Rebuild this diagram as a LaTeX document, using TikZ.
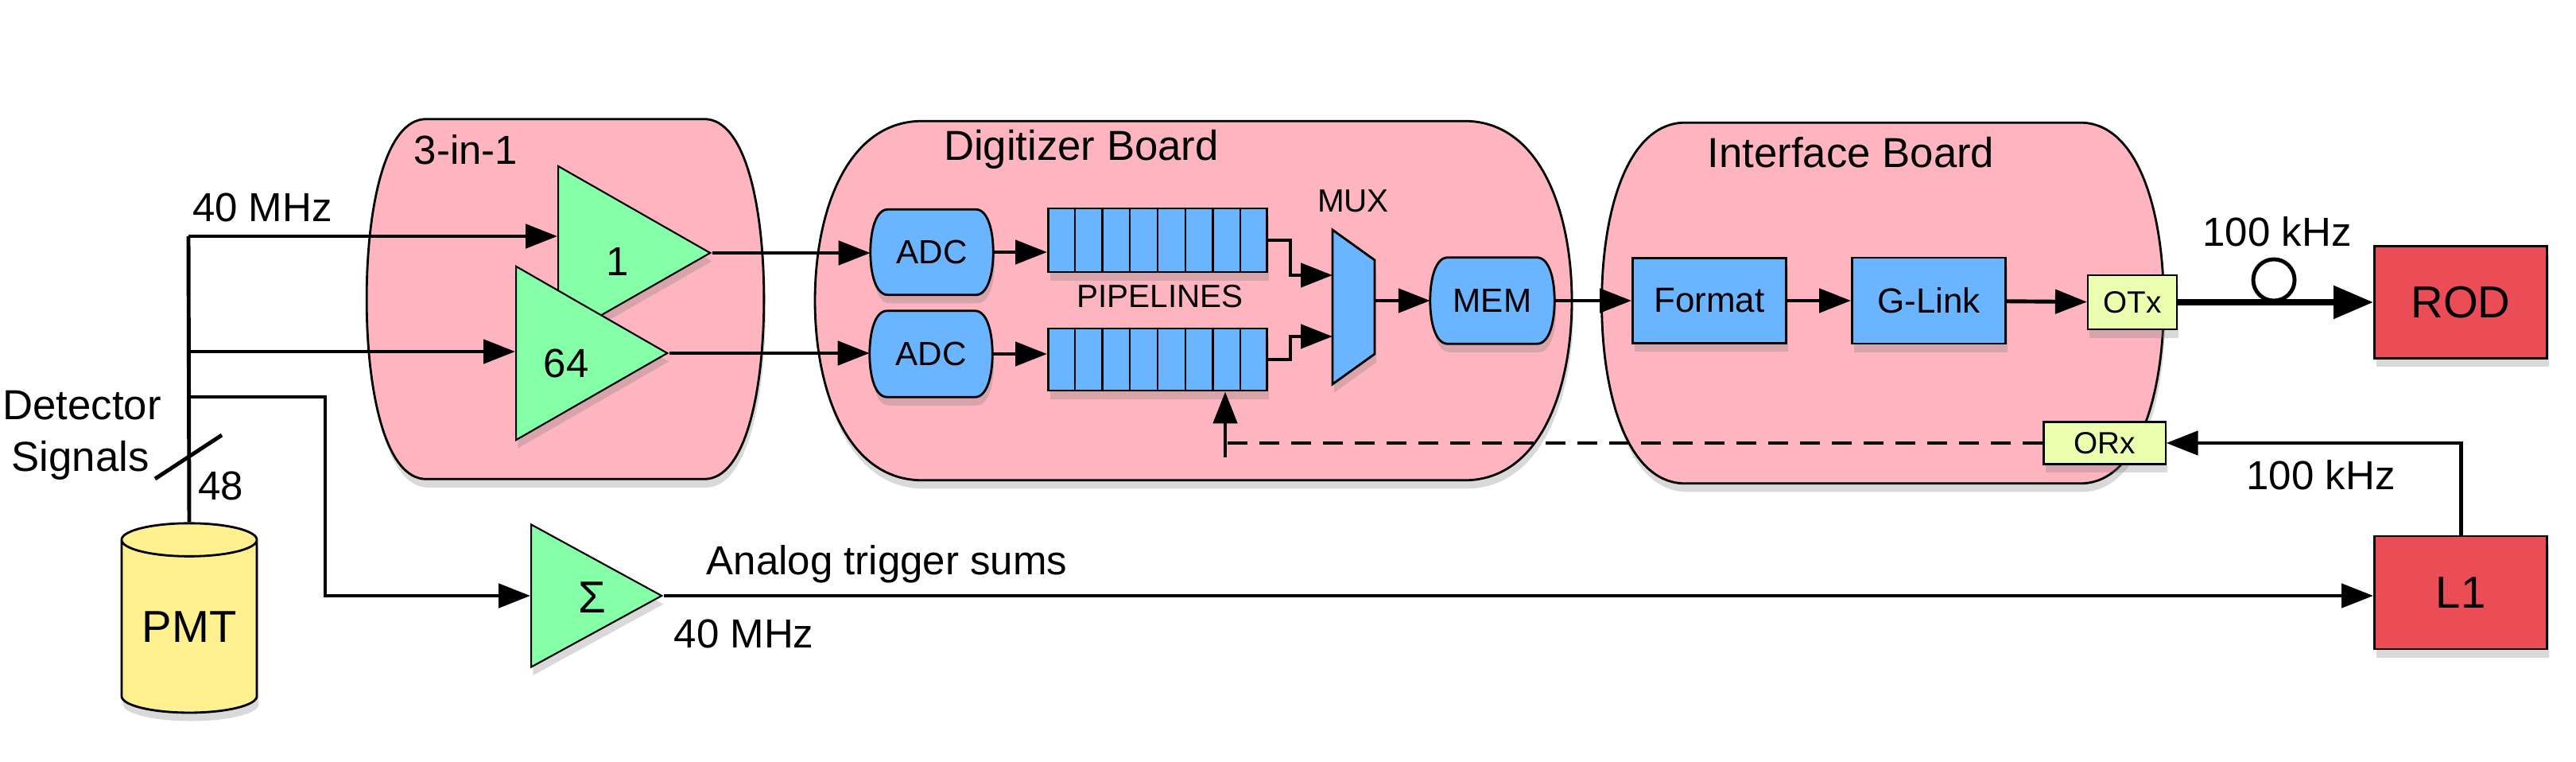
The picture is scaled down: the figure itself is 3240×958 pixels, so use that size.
\documentclass[tikz,border=0pt]{standalone}
\usepackage{fontspec}
\setmainfont{Liberation Sans}
\usetikzlibrary{arrows.meta, shapes.geometric, shadows, calc, positioning}
\definecolor{boardpink}{HTML}{FFB5C0}
\definecolor{ampgreen}{HTML}{85FFA8}
\definecolor{blockblue}{HTML}{6BB4FF}
\definecolor{pmtyellow}{HTML}{FFF08F}
\definecolor{optgreen}{HTML}{EBFFB0}
\definecolor{boxred}{HTML}{EB4D57}

\newcommand{\fs}[1]{\fontsize{#1}{#1}\selectfont}
% barrel outline around a node: name, side depth, style
\newcommand{\barrel}[3]{%
  \filldraw[#3] ([xshift=#2]#1.north west) -- ([xshift=-#2]#1.north east)
    .. controls ([xshift=-0.3*#2]#1.north east) and ($(#1.east)!0.5!(#1.north east)$) .. (#1.east)
    .. controls ($(#1.east)!0.5!(#1.south east)$) and ([xshift=-0.3*#2]#1.south east) .. ([xshift=-#2]#1.south east)
    -- ([xshift=#2]#1.south west)
    .. controls ([xshift=0.3*#2]#1.south west) and ($(#1.west)!0.5!(#1.south west)$) .. (#1.west)
    .. controls ($(#1.west)!0.5!(#1.north west)$) and ([xshift=0.3*#2]#1.north west) .. cycle;}

\tikzset{
  shade/.style={drop shadow={opacity=0.3, shadow xshift=0.6pt, shadow yshift=-3pt}},
  frame/.style={draw=none, fill=none, inner sep=0pt},
  board/.style={draw=black, line width=0.8pt, fill=boardpink, shade},
  block/.style={draw=black, line width=0.8pt, fill=blockblue, shade},
  amp/.style={isosceles triangle, isosceles triangle stretches, draw=black, line width=0.6pt,
    fill=ampgreen, inner sep=0pt, anchor=apex, shade, font=\fs{14}},
  box/.style={draw=black, line width=0.8pt, fill=blockblue, inner sep=0pt, shade},
  redbox/.style={draw=black, line width=0.8pt, fill=boxred, inner sep=0pt, shade, font=\fs{16}},
  opt/.style={draw=black, line width=0.6pt, fill=optgreen, inner sep=0pt, font=\fs{11}, shade},
  lbl/.style={inner sep=0pt, font=\fs{14.5}},
  wire/.style={line width=1.4pt, -{Triangle[length=0.4cm, width=0.3cm]}},
  line/.style={line width=1.4pt},
}

\begin{document}
\begin{tikzpicture}[x=0.01cm, y=-0.01cm]
  \useasboundingbox (0,0) rectangle (3240,958);

  % boards
  \node[frame, minimum width=4.98cm, minimum height=4.51cm] (trio) at (711,376) {};
  \node[frame, minimum width=9.50cm, minimum height=4.50cm] (digi) at (1501,378) {};
  \node[frame, minimum width=7.05cm, minimum height=4.52cm] (iface) at (2368,381) {};
  \barrel{trio}{0.75cm}{board}
  \barrel{digi}{1.35cm}{board}
  \barrel{iface}{1.05cm}{board}
  \node[lbl, anchor=west] (triolbl) at (520,188) {3-in-1};
  \node[lbl, font=\fs{15}] (digilbl) at (1360,188) {Digitizer Board};
  \node[lbl, font=\fs{15}] (ifacelbl) at (2328,192) {Interface Board};

  % amplifiers
  \node[amp, minimum height=1.91cm, minimum width=2.18cm] (amp1) at (896,318) {};
  \node[lbl] (amp1txt) at (777,329) {1};
  \node[amp, minimum height=1.90cm, minimum width=2.18cm] (amp64) at (842,444) {};
  \node[lbl] (amp64txt) at (712,457) {64};
  \node[amp, minimum height=1.64cm, minimum width=1.79cm] (sum) at (835,749) {};
  \node[lbl, font=\fs{16}] (sumtxt) at (745,751) {Σ};

  % PMT
  \node[cylinder, shape border rotate=90, draw=black, line width=0.8pt, fill=pmtyellow,
    minimum width=1.70cm, minimum height=2.38cm, aspect=0.35, inner sep=0pt, shade,
    font=\fs{16}] (pmt) at (238,788) {PMT};

  % digitizer
  \node[frame, minimum width=1.53cm, minimum height=1.06cm] (adc1) at (1172,317) {};
  \node[frame, minimum width=1.53cm, minimum height=1.07cm] (adc2) at (1171,445) {};
  \node[frame, minimum width=1.55cm, minimum height=1.07cm] (mem) at (1877,378) {};
  \barrel{adc1}{0.22cm}{block}
  \barrel{adc2}{0.22cm}{block}
  \barrel{mem}{0.22cm}{block}
  \node[lbl, font=\fs{12}] (adc1txt) at (adc1) {ADC};
  \node[lbl, font=\fs{12}] (adc2txt) at (adc2) {ADC};
  \node[lbl, font=\fs{12}] (memtxt) at (mem) {MEM};

  \node[box, minimum width=2.75cm, minimum height=0.80cm] (pipe1) at (1456,302) {};
  \node[box, minimum width=2.75cm, minimum height=0.78cm] (pipe2) at (1456,452) {};
  \foreach \p in {pipe1,pipe2}
    \foreach \k in {1,...,7}
      \draw[line width=0.6pt] ($(\p.north west)!\k/8!(\p.north east)$) -- ($(\p.south west)!\k/8!(\p.south east)$);
  \node[lbl, font=\fs{11.5}] (pipetxt) at (1459,373) {PIPELINES};

  \filldraw[block] (1676,289) -- (1729,327) -- (1729,445) -- (1676,483) -- cycle;
  \coordinate (mux1in) at (1676,346);
  \coordinate (mux2in) at (1676,423);
  \coordinate (muxout) at (1729,378);
  \node[lbl, font=\fs{11.5}] (muxtxt) at (1702,253) {MUX};

  % interface
  \node[box, minimum width=1.93cm, minimum height=1.07cm, font=\fs{12.5}] (format) at (2150,378) {Format};
  \node[box, minimum width=1.93cm, minimum height=1.08cm, font=\fs{12.5}] (glink) at (2426,378) {G-Link};
  \node[opt, minimum width=1.12cm, minimum height=0.68cm] (otx) at (2682,380) {OTx};
  \node[opt, minimum width=1.53cm, minimum height=0.53cm] (orx) at (2647,557) {ORx};

  % outside
  \node[redbox, minimum width=2.17cm, minimum height=1.41cm] (rod) at (3095,380) {ROD};
  \node[redbox, minimum width=2.17cm, minimum height=1.42cm] (l1) at (3095,745) {L1};

  % signal fan-out
  \coordinate (tap1) at (237,297);
  \coordinate (tap2) at (237,442);
  \coordinate (tap3) at (237,499);
  \coordinate (bend) at (409,499);
  \draw[line] (pmt.north) -- (tap1);
  \draw[wire] (tap1) -- (tap1 -| amp1.west);
  \draw[wire] (tap2) -- (tap2 -| amp64.west);
  \draw[wire] (tap3) -- (bend) |- (sum.west);
  \coordinate (slash1) at (195,602);
  \coordinate (slash2) at (279,547);
  \draw[line] (slash1) -- (slash2);
  \node[lbl] (clk1) at (330,261) {40 MHz};
  \node[lbl, font=\fs{15}] (dettxt) at (103,510) {Detector};
  \node[lbl, font=\fs{15}] (sigtxt) at (101,579) {Signals};
  \node[lbl] (chtxt) at (278,611) {48};

  \draw[wire] (amp1.apex) -- (amp1.apex -| adc1.west);
  \draw[wire] (amp64.apex) -- (amp64.apex -| adc2.west);
  \draw[wire] (adc1.east) -- (adc1.east -| pipe1.west);
  \draw[wire] (adc2.east) -- (adc2.east -| pipe2.west);
  \draw[wire] (pipe1.east) -- ([xshift=0.28cm]pipe1.east) |- (mux1in);
  \draw[wire] (pipe2.east) -- ([xshift=0.28cm]pipe2.east) |- (mux2in);
  \draw[wire] (muxout) -- (muxout -| mem.west);
  \draw[wire] (mem.east) -- (format.west);
  \draw[wire] (format) -- (glink);
  \draw[wire] (glink) -- (otx);
  \draw[line width=2.4pt, -{Triangle[length=0.5cm, width=0.4cm]}] (otx) -- (rod);
  \node[circle, draw=black, line width=1.4pt, minimum size=0.52cm, inner sep=0pt] (loop) at (2860,352) {};
  \node[lbl] (rate1) at (2864,291) {100 kHz};

  \coordinate (fbk) at (1541,557);
  \draw[line width=1.4pt, dash pattern=on 0.25cm off 0.15cm] (orx.west) -- (fbk);
  \draw[wire] ([yshift=-0.18cm]fbk) -- (fbk |- pipe2.south);
  \draw[wire] (l1.north) |- (orx.east);
  \node[lbl] (rate2) at (2919,597) {100 kHz};

  \draw[wire] (sum.apex) -- (sum.apex -| l1.west);
  \node[lbl, anchor=west] (anatxt) at (888,709) {Analog trigger sums};
  \node[lbl, anchor=west] (clk2) at (847,797) {40 MHz};
\end{tikzpicture}
\end{document}
